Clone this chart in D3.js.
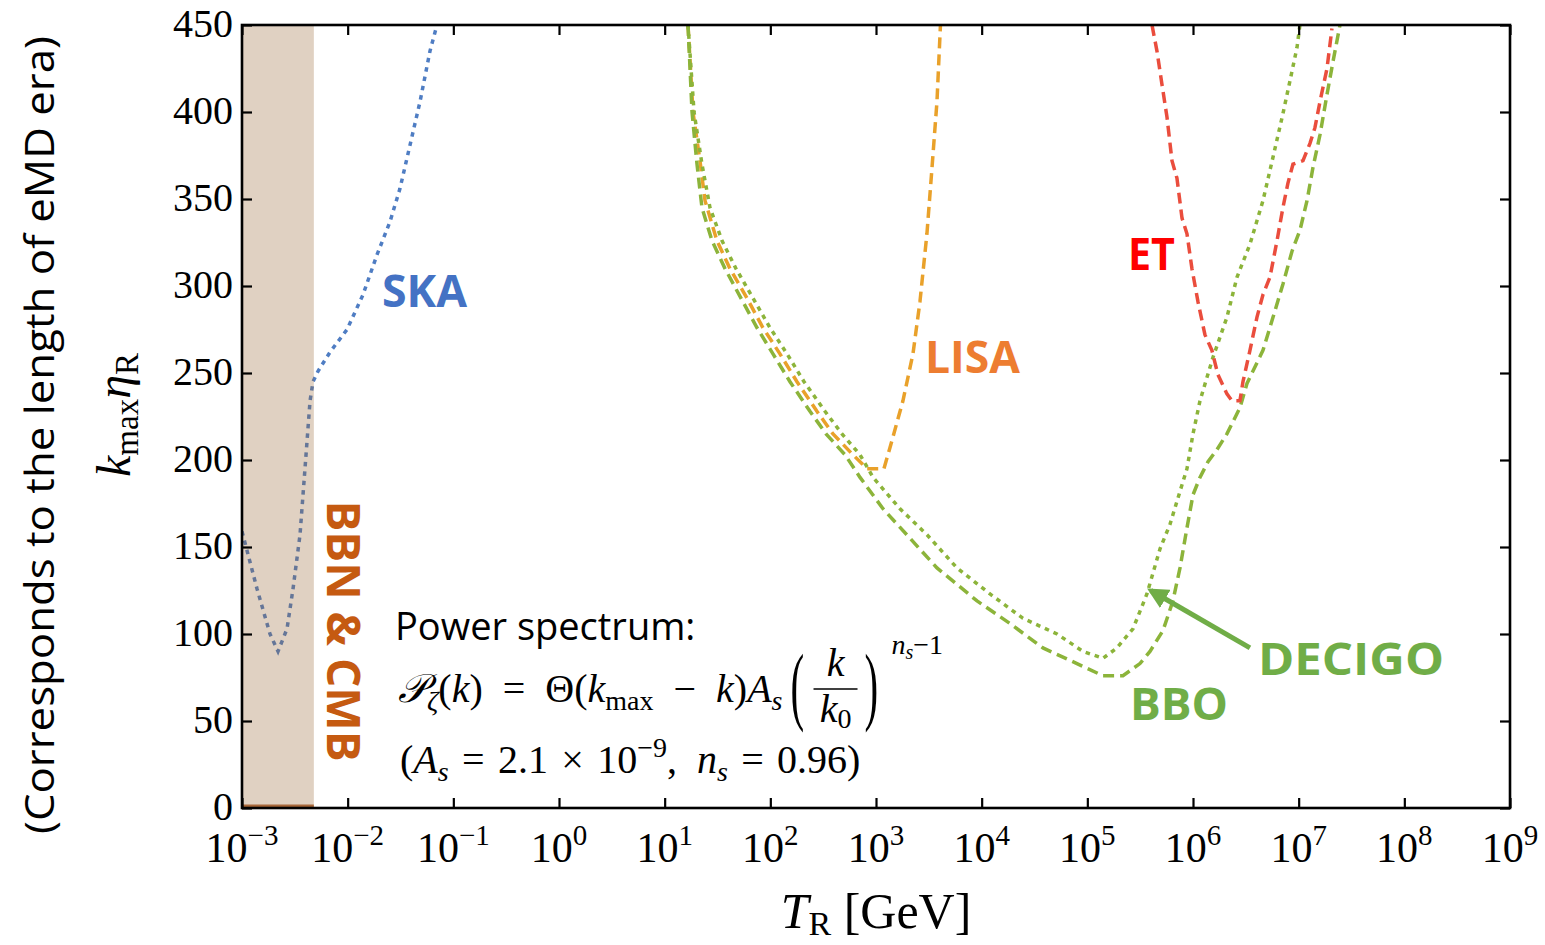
<!DOCTYPE html>
<html>
<head>
<meta charset="utf-8">
<script src="https://cdn.jsdelivr.net/npm/d3@7"></script>
<style>
  body { margin: 0; background: #fff; }
  svg { display: block; }
</style>
</head>
<body>
<svg id="chart" width="1545" height="945"></svg>
<script>
/* k_max eta_R reach of GW detectors vs reheating temperature */

// x values are log10(T_R / GeV), y values are k_max * eta_R
const skaLogT = [-3.0, -2.858, -2.735, -2.659, -2.574, -2.517, -2.451, -2.404, -2.356, -2.328, -2.281,
  -2.167, -2.006, -1.855, -1.722, -1.599, -1.505, -1.41, -1.315, -1.221, -1.155];
const skaK = [159, 126, 100, 90, 103, 126, 157, 195, 234, 245, 251, 262, 275, 295, 318, 337, 356, 381, 406, 435, 450];

const lisaLogT = [1.221, 1.268, 1.334, 1.382, 1.495, 1.618, 1.779, 1.93, 2.091, 2.252, 2.441, 2.593,
  2.782, 2.915, 3.075, 3.132, 3.255, 3.35, 3.416, 3.482, 3.53, 3.577, 3.61];
const lisaK = [450, 400, 372, 349, 326, 310, 293, 276, 261, 245, 228, 215, 203, 195, 195, 207, 234, 261,
  291, 330, 368, 406, 450];

const decigoLogT = [1.221, 1.278, 1.353, 1.429, 1.543, 1.675, 1.836, 1.997, 2.158, 2.319, 2.517, 2.678,
  2.849, 2.972, 3.227, 3.483, 3.766, 4.079, 4.391, 4.713, 4.959, 5.148, 5.28, 5.432, 5.564, 5.688, 5.782,
  5.877, 5.943, 6.0, 6.066, 6.189, 6.321, 6.416, 6.539, 6.662, 6.757, 6.851, 6.918, 6.984, 7.012];
const decigoK = [450, 400, 370, 345, 326, 310, 293, 276, 261, 245, 228, 215, 203, 190, 172, 157, 138, 123,
  109, 100, 90, 86, 92, 103, 123, 149, 163, 182, 195, 215, 234, 259, 282, 305, 324, 349, 374, 399, 418, 437, 450];

const bboLogT = [1.221, 1.259, 1.306, 1.353, 1.448, 1.571, 1.722, 1.874, 2.025, 2.186, 2.375, 2.527,
  2.707, 2.849, 3.066, 3.322, 3.577, 3.956, 4.268, 4.58, 4.902, 5.148, 5.337, 5.498, 5.593, 5.716, 5.81,
  5.877, 5.943, 6.0, 6.066, 6.142, 6.227, 6.321, 6.444, 6.511, 6.662, 6.757, 6.851, 6.937, 7.012, 7.079,
  7.135, 7.202, 7.268, 7.325, 7.391];
const bboK = [450, 400, 370, 345, 326, 310, 293, 276, 261, 245, 228, 215, 203, 190, 172, 155, 138, 119,
  106, 92, 83, 76, 76, 83, 90, 102, 119, 138, 161, 180, 190, 199, 206, 215, 230, 244, 263, 282, 301, 320,
  332, 349, 368, 387, 410, 429, 450];

const etLogT = [5.612, 5.659, 5.706, 5.754, 5.801, 5.848, 5.896, 5.943, 5.99, 6.047, 6.113, 6.179, 6.236,
  6.321, 6.369, 6.444, 6.473, 6.539, 6.605, 6.662, 6.728, 6.795, 6.851, 6.898, 6.946, 7.041, 7.107, 7.154,
  7.202, 7.268, 7.315];
const etK = [450, 435, 416, 397, 372, 362, 339, 330, 310, 291, 272, 263, 249, 238, 234, 234, 245, 263, 282,
  295, 305, 326, 345, 359, 370, 372, 382, 391, 406, 425, 448];

// excluded region (BBN & CMB), log10 T range
const bandLogT = [-3.0, -2.32];
// DECIGO arrow: [log10 T, k] for tail and head
const arrowTail = [6.539, 92];
const arrowHead = [5.6, 125];

const xDecades = [-3, -2, -1, 0, 1, 2, 3, 4, 5, 6, 7, 8, 9];
const yTicks = [0, 50, 100, 150, 200, 250, 300, 350, 400, 450];

const SERIF = "'Liberation Serif', 'DejaVu Serif', serif";
const SANS = "'Open Sans', 'Lato', sans-serif";

const plot = { left: 242, right: 1510, top: 25, bottom: 808 };
const x = d3.scaleLog().domain([1e-3, 1e9]).range([plot.left, plot.right]);
const y = d3.scaleLinear().domain([0, 450]).range([plot.bottom, plot.top]);

const svg = d3.select("#chart");

svg.append("defs").append("clipPath").attr("id", "clip")
  .append("rect")
  .attr("x", plot.left).attr("y", plot.top)
  .attr("width", plot.right - plot.left).attr("height", plot.bottom - plot.top);

const zip = (a, b) => a.map((v, i) => [v, b[i]]);
const series = [
  { pts: zip(skaLogT, skaK), color: "#4f7dc3", dash: "4.5,5" },
  { pts: zip(lisaLogT, lisaK), color: "#e9a12a", dash: "11,6" },
  { pts: zip(decigoLogT, decigoK), color: "#8cb43a", dash: "4.5,5" },
  { pts: zip(bboLogT, bboK), color: "#8cb43a", dash: "11,6" },
  { pts: zip(etLogT, etK), color: "#ea4d3d", dash: "11,6" },
];

const line = d3.line()
  .x((d) => x(Math.pow(10, d[0])))
  .y((d) => y(d[1]));

const curves = svg.append("g").attr("clip-path", "url(#clip)");
curves.selectAll("path")
  .data(series)
  .join("path")
  .attr("d", (s) => line(s.pts))
  .attr("fill", "none")
  .attr("stroke", (s) => s.color)
  .attr("stroke-width", 3.5)
  .attr("stroke-dasharray", (s) => s.dash);

// shaded band drawn on top so the SKA dip shows through greyed
svg.append("rect")
  .attr("x", x(Math.pow(10, bandLogT[0])))
  .attr("y", plot.top)
  .attr("width", x(Math.pow(10, bandLogT[1])) - x(Math.pow(10, bandLogT[0])))
  .attr("height", plot.bottom - plot.top)
  .attr("fill", "#986634")
  .attr("fill-opacity", 0.3);
svg.append("line")
  .attr("x1", x(Math.pow(10, bandLogT[0]))).attr("x2", x(Math.pow(10, bandLogT[1])))
  .attr("y1", y(0) - 2).attr("y2", y(0) - 2)
  .attr("stroke", "#a8683a").attr("stroke-width", 3);

// ticks (inward on all four sides)
const xt = xDecades.map((e) => Math.pow(10, e));
const tickStyle = (g) => {
  g.select(".domain").remove();
  g.selectAll(".tick line").attr("stroke", "#000").attr("stroke-width", 2.2);
  g.selectAll(".tick text").remove();
};
svg.append("g").attr("transform", `translate(0,${plot.bottom})`)
  .call(d3.axisBottom(x).tickValues(xt).tickSize(-10)).call(tickStyle);
svg.append("g").attr("transform", `translate(0,${plot.top})`)
  .call(d3.axisTop(x).tickValues(xt).tickSize(-10)).call(tickStyle);
svg.append("g").attr("transform", `translate(${plot.left},0)`)
  .call(d3.axisLeft(y).tickValues(yTicks).tickSize(-10)).call(tickStyle);
svg.append("g").attr("transform", `translate(${plot.right},0)`)
  .call(d3.axisRight(y).tickValues(yTicks).tickSize(-10)).call(tickStyle);

svg.append("rect")
  .attr("x", plot.left).attr("y", plot.top)
  .attr("width", plot.right - plot.left).attr("height", plot.bottom - plot.top)
  .attr("fill", "none").attr("stroke", "#000").attr("stroke-width", 2.6);

// y tick labels
svg.append("g")
  .selectAll("text")
  .data(yTicks)
  .join("text")
  .attr("x", plot.left - 9)
  .attr("y", (d) => y(d) + 12)
  .attr("text-anchor", "end")
  .attr("font-family", SERIF)
  .attr("font-size", 40)
  .text((d) => d);

// x tick labels 10^n
const xl = svg.append("g").attr("font-family", SERIF);
xDecades.forEach((e) => {
  const t = xl.append("text")
    .attr("x", x(Math.pow(10, e)))
    .attr("y", 862)
    .attr("text-anchor", "middle");
  t.append("tspan").attr("font-size", 42).text("10");
  t.append("tspan").attr("font-size", 29).attr("dy", -17)
    .text(e < 0 ? "\u2212" + Math.abs(e) : String(e));
});

// axis titles
const xt2 = svg.append("text")
  .attr("x", (plot.left + plot.right) / 2)
  .attr("y", 928)
  .attr("text-anchor", "middle")
  .attr("font-family", SERIF)
  .attr("font-size", 50);
xt2.append("tspan").attr("font-style", "italic").text("T");
xt2.append("tspan").attr("font-size", 34).attr("dy", 7).text("R");
xt2.append("tspan").attr("dy", -7).text(" [GeV]");

const yt = svg.append("text")
  .attr("transform", "translate(130,415) rotate(-90)")
  .attr("text-anchor", "middle")
  .attr("font-family", SERIF)
  .attr("font-size", 48);
yt.append("tspan").attr("font-style", "italic").text("k");
yt.append("tspan").attr("font-size", 33).attr("dy", 8).text("max");
yt.append("tspan").attr("font-style", "italic").attr("dy", -8).text("\u03b7");
yt.append("tspan").attr("font-size", 33).attr("dy", 8).text("R");

svg.append("text")
  .attr("transform", "translate(54,435) rotate(-90)")
  .attr("text-anchor", "middle")
  .attr("font-family", SANS)
  .attr("font-size", 41)
  .attr("textLength", 798)
  .attr("lengthAdjust", "spacingAndGlyphs")
  .text("(Corresponds to the length of eMD era)");

// detector labels
const labels = [
  { text: "SKA", x: 382, y: 307, w: 85, color: "#4472c4" },
  { text: "LISA", x: 925, y: 373, w: 95, color: "#ed7d31" },
  { text: "ET", x: 1128, y: 270, w: 47, color: "#ff0000" },
  { text: "DECIGO", x: 1258, y: 675, w: 186, color: "#70ad47" },
  { text: "BBO", x: 1130, y: 720, w: 98, color: "#70ad47" },
];
svg.append("g")
  .selectAll("text")
  .data(labels)
  .join("text")
  .attr("x", (d) => d.x)
  .attr("y", (d) => d.y)
  .attr("fill", (d) => d.color)
  .attr("font-family", SANS)
  .attr("font-weight", 700)
  .attr("font-size", 44)
  .attr("textLength", (d) => d.w)
  .attr("lengthAdjust", "spacingAndGlyphs")
  .text((d) => d.text);

svg.append("text")
  .attr("transform", "translate(327,631) rotate(90)")
  .attr("text-anchor", "middle")
  .attr("fill", "#c55a11")
  .attr("font-family", SANS)
  .attr("font-weight", 700)
  .attr("font-size", 46)
  .text("BBN & CMB");

// arrow to DECIGO curve
svg.select("defs").append("marker")
  .attr("id", "head")
  .attr("viewBox", "0 0 10 10")
  .attr("refX", 8).attr("refY", 5)
  .attr("markerWidth", 4.2).attr("markerHeight", 4.2)
  .attr("orient", "auto")
  .append("path").attr("d", "M0,0 L10,5 L0,10 z").attr("fill", "#70ad47");
svg.append("line")
  .attr("x1", x(Math.pow(10, arrowTail[0]))).attr("y1", y(arrowTail[1]))
  .attr("x2", x(Math.pow(10, arrowHead[0]))).attr("y2", y(arrowHead[1]))
  .attr("stroke", "#70ad47").attr("stroke-width", 5)
  .attr("marker-end", "url(#head)");

// power spectrum note
svg.append("text")
  .attr("x", 395).attr("y", 640)
  .attr("font-family", SANS)
  .attr("font-size", 38)
  .text("Power spectrum:");

const FS = 40, SUB = 28, SP = "\u2002", SP3 = "\u2004";
const l2 = svg.append("text").attr("x", 398).attr("y", 702)
  .attr("font-family", SERIF).attr("font-size", FS);
l2.append("tspan").attr("font-family", "'DejaVu Serif', serif").attr("font-style", "italic").text("\ud835\udcab");
l2.append("tspan").attr("font-size", SUB).attr("font-style", "italic").attr("dy", 8).text("\u03b6");
l2.append("tspan").attr("dy", -8).text("(");
l2.append("tspan").attr("font-style", "italic").text("k");
l2.append("tspan").text(")" + SP + "=" + SP + "\u0398(");
l2.append("tspan").attr("font-style", "italic").text("k");
l2.append("tspan").attr("font-size", SUB).attr("dy", 8).text("max");
l2.append("tspan").attr("dy", -8).text(SP + "\u2212" + SP);
l2.append("tspan").attr("font-style", "italic").text("k");
l2.append("tspan").text(")");
l2.append("tspan").attr("font-style", "italic").text("A");
l2.append("tspan").attr("font-size", SUB).attr("font-style", "italic").attr("dy", 8).text("s");

const x0 = 398 + l2.node().getComputedTextLength() + 8;
const bigParen = (px, ch) => svg.append("text")
  .attr("transform", `translate(${px},714) scale(1,2.1)`)
  .attr("font-family", SERIF).attr("font-size", 41).text(ch);
bigParen(x0, "(");
const fc = x0 + 45;
svg.append("text").attr("x", fc).attr("y", 676).attr("text-anchor", "middle")
  .attr("font-family", SERIF).attr("font-size", FS).attr("font-style", "italic").text("k");
svg.append("line").attr("x1", fc - 22).attr("x2", fc + 22).attr("y1", 689).attr("y2", 689)
  .attr("stroke", "#000").attr("stroke-width", 1.6);
const den = svg.append("text").attr("x", fc).attr("y", 722).attr("text-anchor", "middle")
  .attr("font-family", SERIF).attr("font-size", FS);
den.append("tspan").attr("font-style", "italic").text("k");
den.append("tspan").attr("font-size", SUB).attr("dy", 6).text("0");
bigParen(fc + 29, ")");
const ex = svg.append("text").attr("x", fc + 56).attr("y", 654)
  .attr("font-family", SERIF).attr("font-size", SUB);
ex.append("tspan").attr("font-style", "italic").text("n");
ex.append("tspan").attr("font-style", "italic").attr("font-size", 20).attr("dy", 5).text("s");
ex.append("tspan").attr("dy", -5).text("\u22121");

const l3 = svg.append("text").attr("x", 400).attr("y", 773)
  .attr("font-family", SERIF).attr("font-size", FS);
l3.append("tspan").text("(");
l3.append("tspan").attr("font-style", "italic").text("A");
l3.append("tspan").attr("font-size", SUB).attr("font-style", "italic").attr("dy", 8).text("s");
l3.append("tspan").attr("dy", -8).text(SP3 + "=" + SP3 + "2.1" + SP3 + "\u00d7" + SP3 + "10");
l3.append("tspan").attr("font-size", SUB).attr("dy", -16).text("\u22129");
l3.append("tspan").attr("dy", 16).text("," + SP);
l3.append("tspan").attr("font-style", "italic").text("n");
l3.append("tspan").attr("font-size", SUB).attr("font-style", "italic").attr("dy", 8).text("s");
l3.append("tspan").attr("dy", -8).text(SP3 + "=" + SP3 + "0.96)");
</script>
</body>
</html>
